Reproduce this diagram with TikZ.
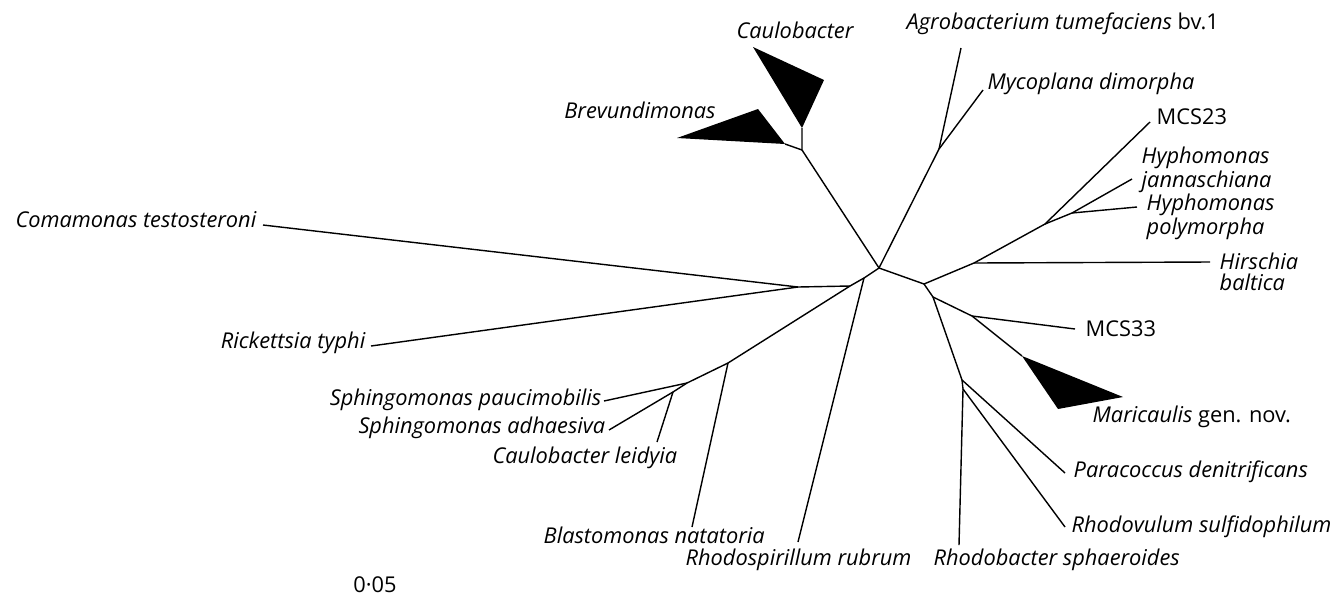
\documentclass[tikz,border=0pt]{standalone}
\usepackage{fontspec}
\setmainfont{Open Sans}

\begin{document}
\begin{tikzpicture}[x=0.02cm,y=-0.02cm,line width=0.8pt,
  lab/.style={inner sep=0pt,align=left,font=\fontsize{12.4}{11.6}\selectfont\itshape},
  rom/.style={inner sep=0pt,font=\fontsize{12.4}{11.6}\selectfont}]
\useasboundingbox (0,0) rectangle (1341,596);
% ---------- internal nodes of the tree ----------
\coordinate (root) at (879,268);
\coordinate (n1) at (864,278);  \coordinate (n2) at (850,286);
\coordinate (n3) at (798,287);  \coordinate (n4) at (728,363);
\coordinate (n5) at (687,383);  \coordinate (n6) at (673,392);
\coordinate (n7) at (802,150);  \coordinate (n8) at (939,149);
\coordinate (n9) at (924,284);  \coordinate (n10) at (974,263);
\coordinate (n11) at (1045,224); \coordinate (n12) at (1072,213);
\coordinate (n13) at (933,297); \coordinate (n14) at (972,316);
\coordinate (n15) at (962,380); \coordinate (n16) at (963,389);
% ---------- leaf tips ----------
\coordinate (tComa) at (263,225);  \coordinate (tRick) at (371,346);
\coordinate (tSphP) at (604,401);  \coordinate (tSphA) at (609,430);
\coordinate (tCLei) at (657,442);  \coordinate (tBlast) at (692,527);
\coordinate (tRsp) at (798,542);   \coordinate (tRhb) at (959,545);
\coordinate (tRhv) at (1065,527);  \coordinate (tPara) at (1065,473);
\coordinate (tMari) at (1022,356); \coordinate (tMcs33) at (1075,329);
\coordinate (tHirs) at (1210,262); \coordinate (tHypo) at (1137,207);
\coordinate (tHyja) at (1132,179); \coordinate (tMcs23) at (1150,122);
\coordinate (tMyco) at (983,90);   \coordinate (tAgro) at (961,48);
\coordinate (tCaulo) at (802,128); \coordinate (tBrev) at (785,144);
% ---------- collapsed clades ----------
\fill (tCaulo) -- (753,47) -- (824,80) -- cycle;
\fill (tBrev) -- (677,138) -- (758,109) -- cycle;
\fill (tMari) -- (1123,397) -- (1058,409) -- cycle;
% ---------- branches ----------
\draw (root) -- (n1) -- (n2) -- (n3) -- (tComa);
\draw (n3) -- (tRick);
\draw (n2) -- (n4) -- (n5) -- (n6) -- (tSphA);
\draw (n4) -- (tBlast);  \draw (n5) -- (tSphP);  \draw (n6) -- (tCLei);
\draw (n1) -- (tRsp);
\draw (root) -- (n7) -- (tCaulo);  \draw (n7) -- (tBrev);
\draw (root) -- (n8) -- (tAgro);   \draw (n8) -- (tMyco);
\draw (root) -- (n9) -- (n10) -- (n11) -- (tMcs23);
\draw (n10) -- (tHirs);
\draw (n11) -- (n12) -- (tHyja);  \draw (n12) -- (tHypo);
\draw (n9) -- (n13) -- (n14) -- (tMcs33);  \draw (n14) -- (tMari);
\draw (n13) -- (n15) -- (tPara);
\draw (n15) -- (n16) -- (tRhv);  \draw (n16) -- (tRhb);
% ---------- labels ----------
\node[lab] (lCaulo) at (795,30) {Caulobacter};
\node[lab,anchor=west] (lAgro) at (906,24) {Agrobacterium tumefaciens \upshape bv.1};
\node[lab,anchor=west] (lMyco) at (987,84) {Mycoplana dimorpha};
\node[lab] (lBrev) at (640,110) {Brevundimonas};
\node[rom,anchor=west] (lMcs23) at (1156,117) {MCS23};
\node[lab,anchor=west] (lHyja) at (1141,170) {Hyphomonas\\jannaschiana};
\node[lab,anchor=west] (lHypo) at (1146,217) {Hyphomonas\\polymorpha};
\node[lab,anchor=west] (lHirs) at (1219,272) {Hirschia\\baltica};
\node[rom,anchor=west] (lMcs33) at (1085,329) {MCS33};
\node[lab,anchor=west] (lMari) at (1092,417) {Maricaulis \upshape gen. nov.};
\node[lab,anchor=west] (lPara) at (1073,472) {Paracoccus denitrificans};
\node[lab,anchor=west] (lRhv) at (1071,527) {Rhodovulum sulfidophilum};
\node[lab,anchor=west] (lRhb) at (933,560) {Rhodobacter sphaeroides};
\node[lab,anchor=west] (lRsp) at (685,560) {Rhodospirillum rubrum};
\node[lab,anchor=west] (lBlast) at (543,535) {Blastomonas natatoria};
\node[lab,anchor=east] (lCLei) at (678,458) {Caulobacter leidyia};
\node[lab,anchor=east] (lSphA) at (606,428) {Sphingomonas adhaesiva};
\node[lab,anchor=east] (lSphP) at (602,400) {Sphingomonas paucimobilis};
\node[lab,anchor=east] (lRick) at (366,343) {Rickettsia typhi};
\node[lab,anchor=east] (lComa) at (257,220) {Comamonas testosteroni};
\node[rom] (lScale) at (375,585) {0·05};
\end{tikzpicture}
\end{document}
